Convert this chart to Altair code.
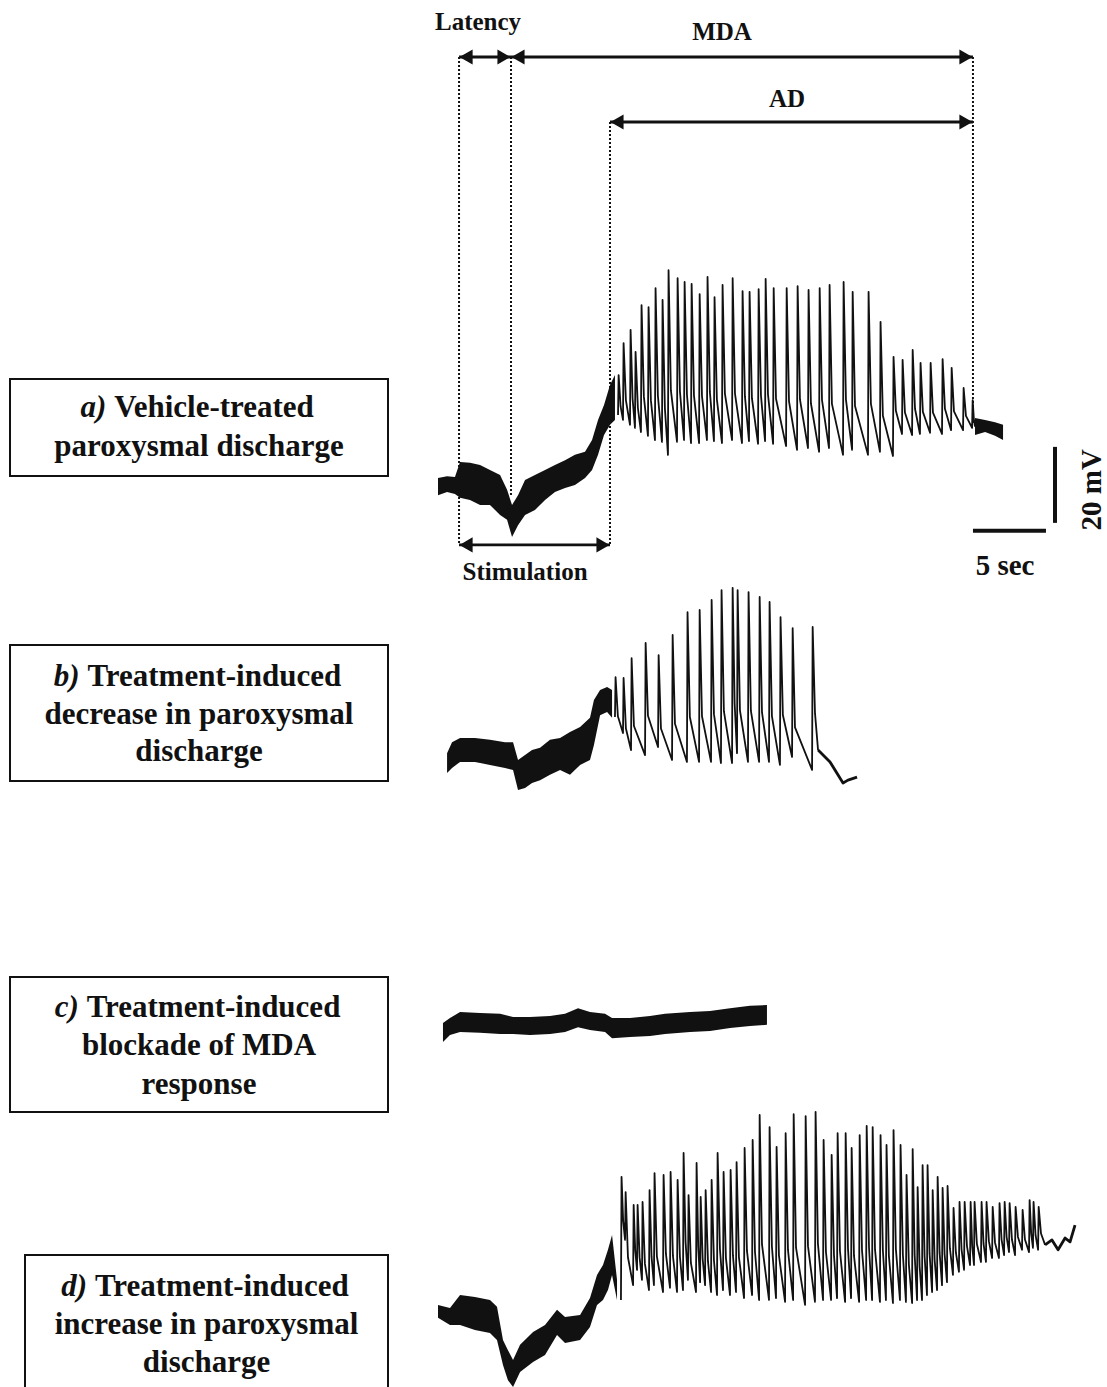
import altair as alt
import pandas as pd

FONT = "Liberation Serif"
INK = "#111111"

# Calibration taken from the scale bars: 5 s = 73 px, 20 mV = 76 px
T_DOMAIN = [-30.0, 45.82]   # seconds across the figure
V_DOMAIN = [0.0, 365.0]     # mV across the figure
OFFSET_A, OFFSET_B, OFFSET_C, OFFSET_D = 237.0, 166.8, 95.3, 19.5

# ---------------- a) vehicle-treated ----------------
A_NOISE_T = [0.0, 0.62, 1.16, 1.51, 2.19, 2.88, 3.56, 4.25, 4.73, 5.07, 5.48, 5.96, 6.64, 7.33,
             8.01, 8.70, 9.38, 10.07, 10.55, 10.96, 11.37, 11.78, 12.12]
A_NOISE_HI = [2.2, 2.7, 2.5, 6.4, 6.2, 5.6, 4.3, 3.0, -0.9, -4.9, -2.3, 1.7, 3.0, 4.3,
              5.6, 6.9, 8.3, 9.1, 12.2, 17.5, 21.4, 26.7, 29.3]
A_NOISE_LO = [-2.3, -1.5, -2.0, -3.0, -3.6, -4.9, -4.9, -7.5, -8.8, -13.3, -10.2, -7.5, -6.2, -3.6,
              -1.5, -0.4, 0.4, 2.2, 4.3, 8.3, 13.5, 16.2, 17.5]
A_SPIKE_T = [12.33, 12.67, 13.15, 13.49, 13.90, 14.38, 14.86, 15.34, 15.75, 16.37, 16.85, 17.33,
             17.88, 18.42, 18.90, 19.45, 20.14, 20.82, 21.30, 21.92, 22.40, 22.95, 23.84, 24.59,
             25.34, 26.10, 26.78, 27.74, 28.36, 29.45, 30.27, 31.16, 31.78, 32.47, 33.01, 33.70,
             34.52, 35.14, 35.96, 36.58]
A_PEAK = [29.3, 37.7, 41.2, 35.4, 47.7, 47.2, 52.2, 49.1, 56.9, 54.8, 53.8, 53.3, 50.6, 55.1,
          49.8, 53.0, 54.8, 51.4, 51.2, 51.9, 54.6, 52.2, 52.2, 52.7, 51.7, 52.2, 53.0, 53.8,
          51.2, 51.2, 43.3, 34.1, 33.3, 35.9, 32.5, 32.5, 33.5, 31.2, 25.9, 22.7]
A_TROUGH = [18.8, 17.5, 16.2, 15.4, 14.3, 13.3, 12.2, 11.7, 8.3, 11.7, 12.2, 11.4, 11.4, 12.2,
            11.9, 11.4, 12.2, 11.4, 11.9, 11.2, 11.9, 11.2, 10.6, 9.6, 10.1, 9.1, 10.1, 8.3,
            9.6, 8.3, 9.1, 8.0, 13.8, 13.5, 13.8, 14.1, 13.8, 14.8, 14.8, 15.4]
A_END = [(36.78, 15.7)]
A_TAIL_T = [36.78, 37.47, 38.15, 38.70]
A_TAIL_HI = [18.0, 17.5, 16.9, 16.2]
A_TAIL_LO = [13.5, 14.3, 13.3, 12.2]

# ---------------- b) decrease ----------------
B_NOISE_T = [0.62, 0.96, 1.51, 2.53, 3.56, 4.59, 5.14, 5.48, 5.96, 6.44, 6.99, 7.67, 8.36, 9.04,
             9.73, 10.41, 10.68, 11.10, 11.58, 11.92]
B_NOISE_HI = [0.0, 2.9, 4.0, 4.0, 3.5, 2.9, 2.9, -1.8, -0.5, 0.8, 1.4, 3.5, 4.0, 5.6,
              6.9, 9.3, 14.0, 16.6, 17.4, 16.6]
B_NOISE_LO = [-5.2, -3.9, -2.3, -2.3, -3.1, -3.9, -4.4, -9.7, -9.2, -7.85, -7.1, -5.7, -4.4, -5.7,
              -3.1, -1.8, 2.15, 10.0, 10.8, 9.3]
B_SPIKE_T = [12.12, 12.67, 13.22, 14.18, 15.07, 16.03, 17.05, 17.88, 18.70, 19.38, 20.14, 20.48,
             21.23, 21.99, 22.67, 23.42, 24.25, 25.62]
B_PEAK = [20.0, 19.8, 25.0, 29.0, 25.8, 31.1, 37.1, 37.7, 40.3, 42.9, 43.5, 42.9, 42.4, 41.1,
          39.8, 35.8, 32.9, 33.2]
B_TROUGH = [9.5, 5.3, 0.8, -0.5, 1.6, -1.8, -2.3, -2.3, -2.3, -2.6, -2.6, 0.0, -2.3, -2.3,
            -2.3, -3.1, -1.0, -4.4]
B_END = [(26.03, 0.8), (26.85, -2.3), (27.74, -7.85), (28.08, -7.1), (28.70, -6.3)]

# ---------------- c) blockade ----------------
C_NOISE_T = [0.34, 0.82, 1.51, 2.88, 4.25, 5.14, 6.30, 7.67, 8.70, 9.59, 10.41, 11.44, 11.92,
             13.15, 14.52, 15.55, 17.26, 18.63, 20.0, 21.37, 22.53]
C_NOISE_HI = [0.5, 1.8, 3.4, 3.1, 2.9, 2.1, 2.1, 2.3, 2.9, 4.4, 3.4, 2.9, 1.8,
              1.8, 2.3, 2.9, 3.4, 3.65, 4.4, 5.0, 5.2]
C_NOISE_LO = [-4.5, -2.7, -1.9, -2.1, -2.4, -2.4, -2.7, -2.4, -1.9, -0.6, -1.35, -1.9, -3.5,
              -3.2, -2.9, -2.4, -1.9, -1.6, -0.8, -0.3, 0.0]

# ---------------- d) increase ----------------
D_NOISE_T = [0.0, 0.82, 1.51, 2.53, 3.56, 4.04, 4.45, 4.79, 5.14, 5.62, 6.51, 7.33, 8.15, 8.70,
             9.73, 10.41, 10.89, 11.30, 11.64, 11.92, 12.26]
D_NOISE_HI = [2.1, 1.3, 4.7, 4.2, 3.4, 1.6, -7.1, -9.8, -12.4, -8.4, -5.0, -3.2, 0.8, -1.1,
              -0.55, 3.9, 10.0, 12.6, 16.6, 20.5, 8.7]
D_NOISE_LO = [-1.3, -3.2, -3.2, -4.5, -5.3, -7.1, -13.7, -17.7, -19.5, -15.55, -12.9, -11.1, -5.8, -7.9,
              -7.1, -3.7, 2.1, 3.4, 6.0, 10.0, 3.4]
D_SPIKE_T = [12.53, 12.81, 13.36, 13.63, 13.97, 14.45, 14.79, 15.41, 15.89, 16.37, 16.78, 17.12,
             17.67, 17.95, 18.29, 18.70, 19.11, 19.52, 20.0, 20.41, 20.96, 21.51, 21.99, 22.67,
             23.15, 23.77, 24.32, 25.14, 25.82, 26.37, 26.92, 27.33, 27.88, 28.29, 28.84, 29.32,
             29.73, 30.27, 30.68, 31.16, 31.64, 32.05, 32.47, 32.81, 33.15, 33.49, 33.84, 34.18,
             34.52, 34.86, 35.27, 35.68, 36.03, 36.44, 36.71, 37.19, 37.53, 37.95, 38.42, 38.77,
             39.11, 39.52, 40.0, 40.48, 40.75, 41.10]
D_PEAK = [35.8, 31.8, 28.4, 28.4, 29.2, 32.3, 36.8, 36.3, 37.1, 35.0, 42.1, 31.0, 39.45, 30.5,
          32.3, 35.0, 42.1, 37.1, 37.6, 39.7, 43.4, 45.5, 52.1, 48.9, 43.7, 47.3, 52.3, 51.8,
          52.9, 45.5, 41.6, 47.3, 47.3, 43.4, 46.8, 49.2, 48.9, 46.8, 44.2, 48.1, 44.2, 36.3,
          43.1, 33.1, 38.9, 38.9, 32.3, 35.8, 32.9, 33.4, 27.6, 29.2, 29.2, 29.2, 29.2, 29.2,
          29.2, 27.9, 28.9, 29.2, 28.9, 27.9, 27.1, 29.7, 29.2, 27.9]
D_TROUGH = [3.4, 19.2, 7.3, 11.3, 8.7, 6.0, 7.3, 5.5, 6.6, 5.5, 6.0, 8.7, 5.5, 8.1,
            7.3, 5.5, 4.7, 6.0, 4.7, 5.5, 3.9, 4.7, 3.4, 3.4, 3.9, 2.9, 3.4, 2.1,
            2.9, 3.4, 3.4, 3.9, 2.9, 3.9, 2.9, 3.4, 3.4, 2.9, 3.4, 2.6, 3.4, 2.9,
            2.6, 3.4, 3.4, 4.7, 5.5, 6.0, 7.3, 8.1, 10.0, 10.8, 11.3, 12.6, 12.6, 13.4,
            13.4, 14.45, 14.45, 15.2, 16.0, 15.2, 16.6, 16.0, 17.1, 16.6]
D_END = [(41.58, 17.9), (42.05, 19.2), (42.47, 16.6), (42.95, 19.7), (43.29, 18.7), (43.63, 23.1)]

# ---------------- annotations on trace a (time s, mV on the shared axis) ----------------
EVENT_T = [1.44, 5.0, 11.78, 36.64]
EVENT_TOP = [350.0, 350.0, 332.9, 350.0]
EVENT_BOTTOM = [221.6, 234.7, 221.6, 253.2]
ARROW_T1 = [1.44, 5.0, 11.78, 1.44]
ARROW_T2 = [5.0, 36.64, 36.64, 11.78]
ARROW_V = [350.0, 350.0, 332.9, 221.6]
LABELS = ["Latency", "MDA", "AD", "Stimulation"]
LABEL_T = [2.74, 19.45, 23.9, 5.96]
LABEL_V = [359.2, 356.6, 338.9, 214.5]
SCALE_T0, SCALE_SEC = 36.64, 5.0
SCALE_V_Y, SCALE_MV_T, SCALE_V0, SCALE_MV = 225.3, 42.26, 227.4, 20.0

# ---------------- label boxes (page layout) ----------------
BOXES = [(10, 379, 388, 476), (10, 645, 388, 781), (10, 977, 388, 1112), (25, 1255, 388, 1400)]
BOX_PREFIX = ["a)", "b)", "c)", "d)"]
BOX_FIRST = ["Vehicle-treated", "Treatment-induced", "Treatment-induced", "Treatment-induced"]
BOX_MORE = [["paroxysmal discharge"], ["decrease in paroxysmal", "discharge"],
            ["blockade of MDA", "response"], ["increase in paroxysmal", "discharge"]]
BOX_SPLIT = [106.4, 79.7, 78.9, 87.2]
BOX_CENTER = [199, 199, 199, 206.5]
BOX_LINE_Y = [[408, 447], [677, 715, 752], [1008, 1046, 1085], [1287, 1325, 1363]]

# waveform drawing style
RISE = 0.04
KNEE_DT = 0.16
KNEE_FRAC = 0.3


def spike_points(ts, peaks, troughs, end_pt):
    assert len(ts) == len(peaks) == len(troughs)
    pts = []
    for i in range(len(ts)):
        if i + 1 < len(ts):
            nt, nv = ts[i + 1], troughs[i + 1]
        else:
            nt, nv = end_pt
        pts.append((ts[i], troughs[i]))
        pts.append((ts[i] + RISE, peaks[i]))
        kd = min(KNEE_DT, 0.4 * (nt - ts[i]))
        pts.append((ts[i] + RISE + kd, nv + KNEE_FRAC * (peaks[i] - nv)))
    pts.append(end_pt)
    return pts


def band_frame(name, ts, hi, lo, off):
    assert len(ts) == len(hi) == len(lo)
    return pd.DataFrame({"seg": name, "t": ts, "hi": [h + off for h in hi], "lo": [l + off for l in lo]})


def line_frame(name, pts, off):
    return pd.DataFrame({"trace": name, "i": list(range(len(pts))),
                         "t": [p[0] for p in pts], "v": [p[1] + off for p in pts]})


band_df = pd.concat([
    band_frame("a0", A_NOISE_T, A_NOISE_HI, A_NOISE_LO, OFFSET_A),
    band_frame("a1", A_TAIL_T, A_TAIL_HI, A_TAIL_LO, OFFSET_A),
    band_frame("b0", B_NOISE_T, B_NOISE_HI, B_NOISE_LO, OFFSET_B),
    band_frame("c0", C_NOISE_T, C_NOISE_HI, C_NOISE_LO, OFFSET_C),
    band_frame("d0", D_NOISE_T, D_NOISE_HI, D_NOISE_LO, OFFSET_D),
], ignore_index=True)

line_df = pd.concat([
    line_frame("a", spike_points(A_SPIKE_T, A_PEAK, A_TROUGH, A_END[0]), OFFSET_A),
    line_frame("b", spike_points(B_SPIKE_T, B_PEAK, B_TROUGH, B_END[0]), OFFSET_B),
    line_frame("d", spike_points(D_SPIKE_T, D_PEAK, D_TROUGH, D_END[0]), OFFSET_D),
], ignore_index=True)
tail_df = pd.concat([
    line_frame("b", B_END, OFFSET_B),
    line_frame("d", D_END, OFFSET_D),
], ignore_index=True)

XS = alt.Scale(domain=T_DOMAIN, nice=False, zero=False)
YS = alt.Scale(domain=V_DOMAIN, nice=False, zero=False)


def X(f):
    return alt.X(f, type="quantitative", scale=XS, axis=None)


def Y(f):
    return alt.Y(f, type="quantitative", scale=YS, axis=None)


ONE = pd.DataFrame({"k": [0]})


def ptext(s, x, y, size, align="center", italic=False, angle=0):
    kw = dict(text=s, font=FONT, fontSize=size, fontWeight="bold", align=align,
              baseline="middle", color=INK)
    if italic:
        kw["fontStyle"] = "italic"
    if angle:
        kw["angle"] = angle
    return alt.Chart(ONE).mark_text(**kw).encode(x=alt.value(x), y=alt.value(y))


layers = []

# boxes
for (x0, y0, x1, y1) in BOXES:
    layers.append(alt.Chart(ONE).mark_rect(fill="white", stroke=INK, strokeWidth=2).encode(
        x=alt.value(x0), x2=alt.value(x1), y=alt.value(y0), y2=alt.value(y1)))

# traces
layers.append(alt.Chart(band_df).mark_area(color=INK, opacity=1).encode(
    x=X("t"), y=Y("hi"), y2=alt.Y2("lo"), detail="seg:N"))
layers.append(alt.Chart(line_df).mark_line(color=INK, strokeWidth=1.8, strokeJoin="round").encode(
    x=X("t"), y=Y("v"), detail="trace:N", order="i:Q"))
layers.append(alt.Chart(tail_df).mark_line(color=INK, strokeWidth=2.8, strokeJoin="round").encode(
    x=X("t"), y=Y("v"), detail="trace:N", order="i:Q"))

# event lines
ev_df = pd.DataFrame({"t": EVENT_T, "top": EVENT_TOP, "bot": EVENT_BOTTOM})
layers.append(alt.Chart(ev_df).mark_rule(color=INK, strokeWidth=2, strokeDash=[2, 2]).encode(
    x=X("t"), y=Y("top"), y2=alt.Y2("bot")))

# arrows
ar_df = pd.DataFrame({"t1": ARROW_T1, "t2": ARROW_T2, "v": ARROW_V})
layers.append(alt.Chart(ar_df).mark_rule(color=INK, strokeWidth=2.8).encode(
    x=X("t1"), x2=alt.X2("t2"), y=Y("v")))
layers.append(alt.Chart(ar_df).mark_point(shape="triangle-left", filled=True, size=230, color=INK,
                                          opacity=1, xOffset=7).encode(x=X("t1"), y=Y("v")))
layers.append(alt.Chart(ar_df).mark_point(shape="triangle-right", filled=True, size=230, color=INK,
                                          opacity=1, xOffset=-7).encode(x=X("t2"), y=Y("v")))

lab_df = pd.DataFrame({"label": LABELS, "t": LABEL_T, "v": LABEL_V})
layers.append(alt.Chart(lab_df).mark_text(font=FONT, fontWeight="bold", fontSize=25, color=INK,
                                          baseline="middle").encode(x=X("t"), y=Y("v"), text="label:N"))

# scale bars
sb_h = pd.DataFrame({"t1": [SCALE_T0], "t2": [SCALE_T0 + SCALE_SEC], "v": [SCALE_V_Y]})
sb_v = pd.DataFrame({"t": [SCALE_MV_T], "v1": [SCALE_V0], "v2": [SCALE_V0 + SCALE_MV]})
layers.append(alt.Chart(sb_h).mark_rule(color=INK, strokeWidth=4).encode(
    x=X("t1"), x2=alt.X2("t2"), y=Y("v")))
layers.append(alt.Chart(sb_v).mark_rule(color=INK, strokeWidth=4).encode(
    x=X("t"), y=Y("v1"), y2=alt.Y2("v2")))
sb_lab = pd.DataFrame({"label": ["5 sec", "20 mV"], "t": [38.84, 44.79], "v": [216.1, 236.1]})
layers.append(alt.Chart(sb_lab.iloc[[0]]).mark_text(font=FONT, fontWeight="bold", fontSize=29,
                                                    color=INK, baseline="middle").encode(
    x=X("t"), y=Y("v"), text="label:N"))
layers.append(alt.Chart(sb_lab.iloc[[1]]).mark_text(font=FONT, fontWeight="bold", fontSize=29,
                                                    color=INK, baseline="middle", angle=270).encode(
    x=X("t"), y=Y("v"), text="label:N"))

# box texts
SIZE = 31
for k in range(4):
    ys = BOX_LINE_Y[k]
    layers.append(ptext(BOX_PREFIX[k], BOX_SPLIT[k], ys[0], SIZE, align="right", italic=True))
    layers.append(ptext(BOX_FIRST[k], BOX_SPLIT[k] + 7.75, ys[0], SIZE, align="left"))
    for j, s in enumerate(BOX_MORE[k]):
        layers.append(ptext(s, BOX_CENTER[k], ys[j + 1], SIZE))

chart = alt.layer(*layers).properties(
    width=1107, height=1387, padding=0, autosize="none", background="white"
).configure_view(strokeWidth=0)

chart.save("out.html", embed_options={"renderer": "svg", "actions": False})
